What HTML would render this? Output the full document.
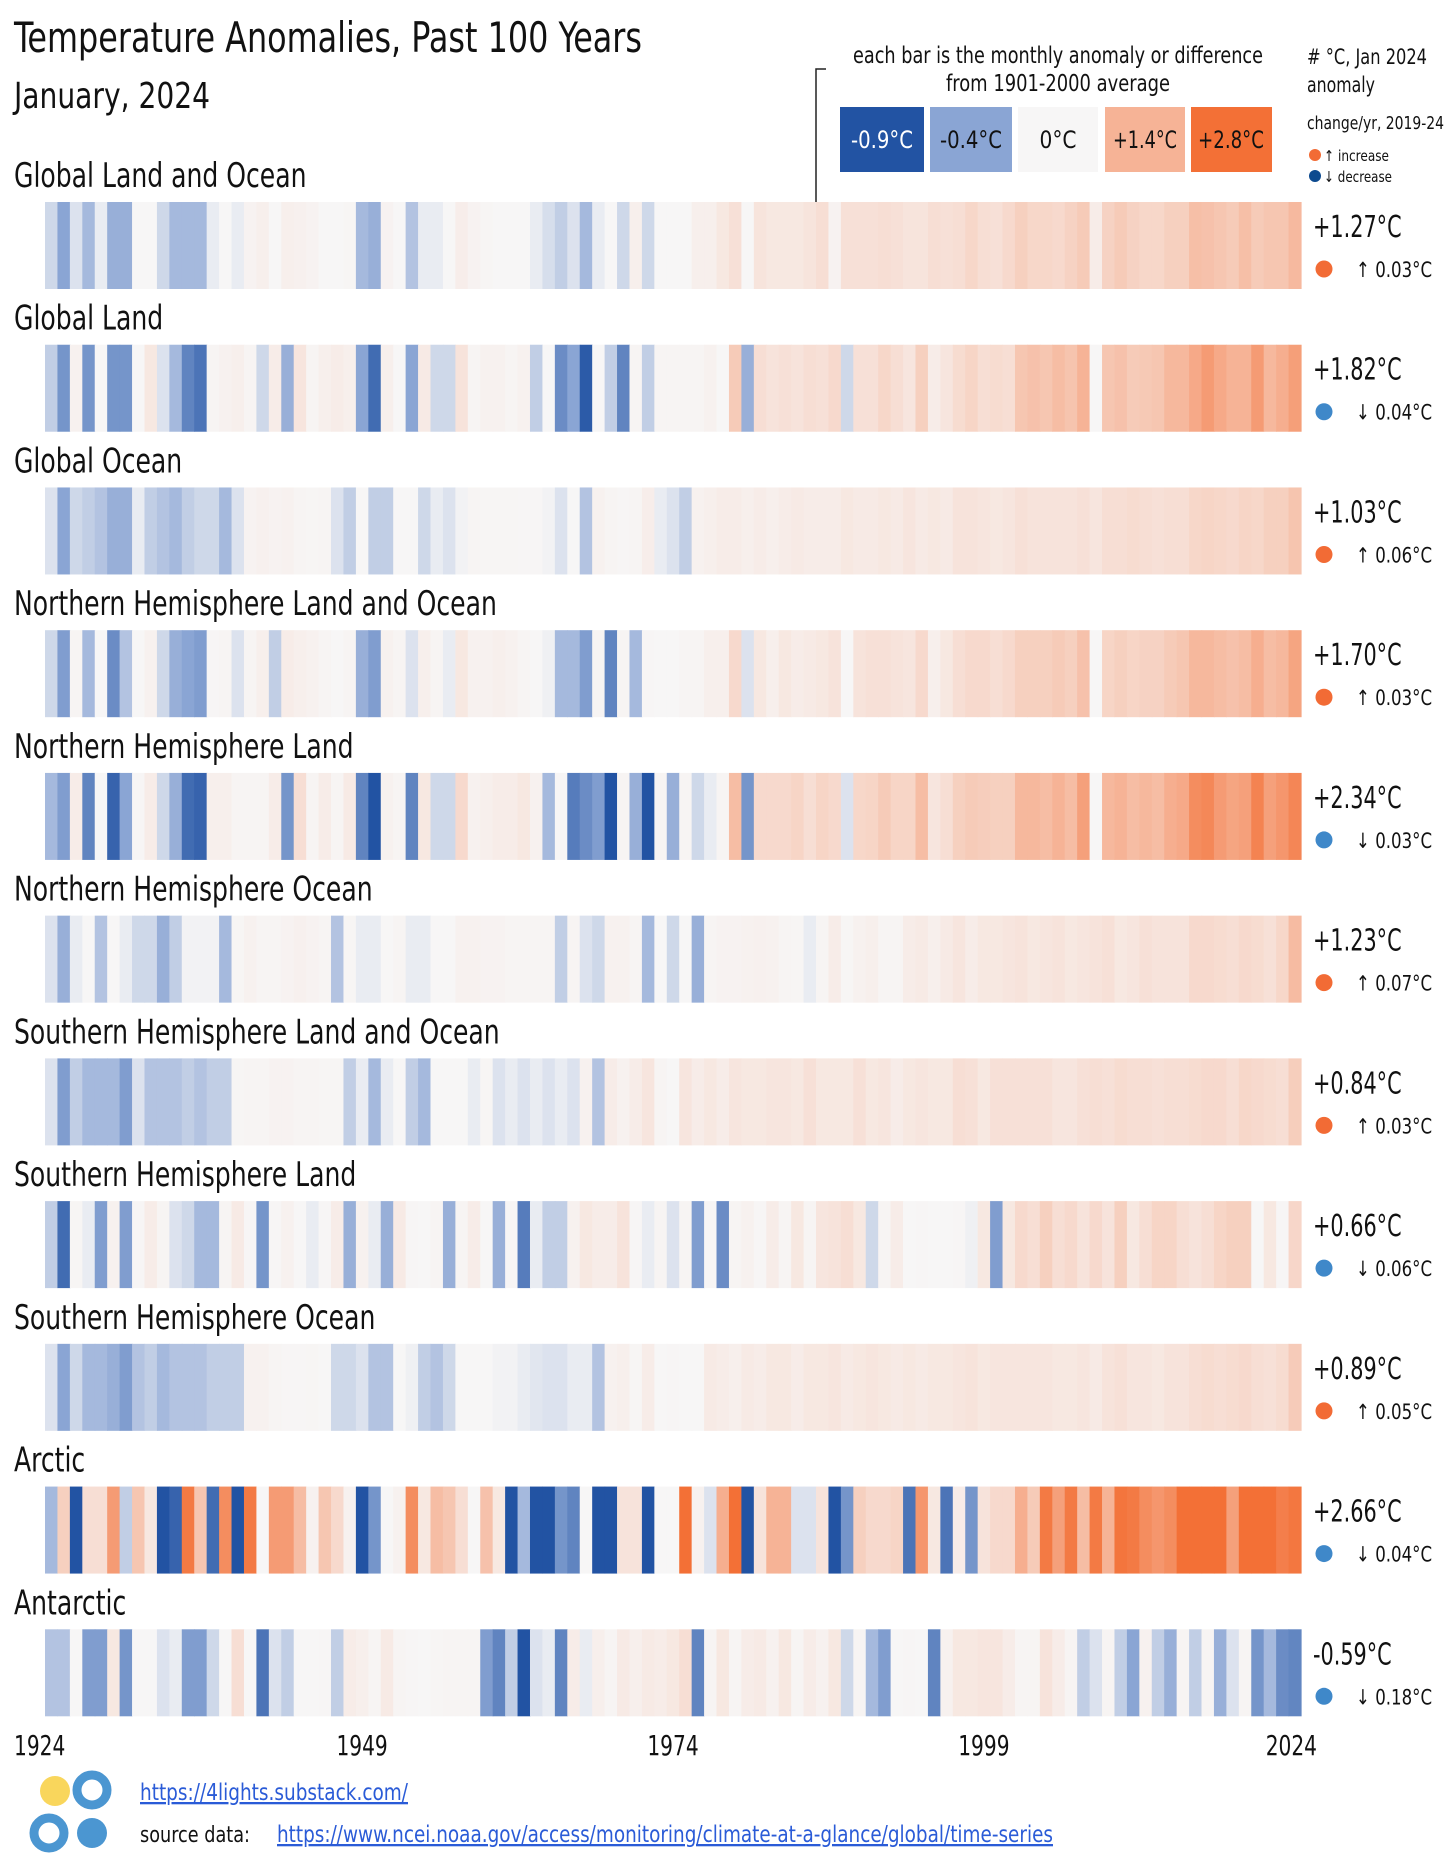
<!DOCTYPE html>
<html><head><meta charset="utf-8">
<style>
html,body{margin:0;padding:0;background:#fff;}
svg{display:block;font-family:"DejaVu Sans Condensed","Liberation Sans Narrow","Liberation Sans",sans-serif;}
</style></head>
<body>
<svg id="chart" width="1456" height="1862" viewBox="0 0 1456 1862" xmlns="http://www.w3.org/2000/svg">
<text x="14" y="52" font-size="42" fill="#111" textLength="628" lengthAdjust="spacingAndGlyphs">Temperature Anomalies, Past 100 Years</text>
<text x="14" y="108" font-size="36" fill="#111" textLength="196" lengthAdjust="spacingAndGlyphs">January, 2024</text>
<g>
<polyline points="826,69 816,69 816,205" fill="none" stroke="#222" stroke-width="1.5"/>
<text x="1058" y="63" font-size="23" text-anchor="middle" fill="#111" textLength="410" lengthAdjust="spacingAndGlyphs">each bar is the monthly anomaly or difference</text>
<text x="1058" y="91" font-size="23" text-anchor="middle" fill="#111" textLength="224" lengthAdjust="spacingAndGlyphs">from 1901-2000 average</text>
<rect x="840" y="107" width="84" height="65" fill="#2253a3"/>
<text x="882" y="148" font-size="24" text-anchor="middle" fill="#fff" textLength="62" lengthAdjust="spacingAndGlyphs">-0.9°C</text>
<rect x="930" y="107" width="82" height="65" fill="#8aa5d4"/>
<text x="971" y="148" font-size="24" text-anchor="middle" fill="#111" textLength="62" lengthAdjust="spacingAndGlyphs">-0.4°C</text>
<rect x="1018" y="107" width="80" height="65" fill="#f7f6f6"/>
<text x="1058" y="148" font-size="24" text-anchor="middle" fill="#111" textLength="37" lengthAdjust="spacingAndGlyphs">0°C</text>
<rect x="1105" y="107" width="80" height="65" fill="#f6b396"/>
<text x="1145" y="148" font-size="24" text-anchor="middle" fill="#111" textLength="64" lengthAdjust="spacingAndGlyphs">+1.4°C</text>
<rect x="1191" y="107" width="81" height="65" fill="#f37036"/>
<text x="1231" y="148" font-size="24" text-anchor="middle" fill="#111" textLength="66" lengthAdjust="spacingAndGlyphs">+2.8°C</text>
</g>
<g>
<text x="1307" y="64" font-size="21" fill="#111" textLength="120" lengthAdjust="spacingAndGlyphs"># °C, Jan 2024</text>
<text x="1307" y="92" font-size="21" fill="#111" textLength="68" lengthAdjust="spacingAndGlyphs">anomaly</text>
<text x="1307" y="129" font-size="18" fill="#111" textLength="137" lengthAdjust="spacingAndGlyphs">change/yr, 2019-24</text>
<circle cx="1315" cy="155" r="6" fill="#f26b35"/>
<text x="1324" y="161" font-size="15" fill="#111" textLength="65" lengthAdjust="spacingAndGlyphs">↑ increase</text>
<circle cx="1315" cy="176" r="6" fill="#0d4a8f"/>
<text x="1324" y="182" font-size="15" fill="#111" textLength="68" lengthAdjust="spacingAndGlyphs">↓ decrease</text>
</g>
<g id="rows"></g>
<g id="xaxis"></g>
<g>
<circle cx="55" cy="1791" r="15" fill="#f9d65c"/>
<circle cx="92" cy="1790" r="15" fill="none" stroke="#4b96d1" stroke-width="9"/>
<circle cx="49" cy="1833" r="15" fill="none" stroke="#4b96d1" stroke-width="9"/>
<circle cx="92" cy="1833" r="15" fill="#4b96d1"/>
<text x="140" y="1800" font-size="23" fill="#2a5bd7" text-decoration="underline" textLength="268" lengthAdjust="spacingAndGlyphs">https://4lights.substack.com/</text>
<text x="140" y="1842" font-size="22" fill="#111" textLength="110" lengthAdjust="spacingAndGlyphs">source data:</text>
<text x="277" y="1842" font-size="23" fill="#2a5bd7" text-decoration="underline" textLength="776" lengthAdjust="spacingAndGlyphs">https://www.ncei.noaa.gov/access/monitoring/climate-at-a-glance/global/time-series</text>
</g>
</svg>
<script>
const regions = ["Global Land and Ocean","Global Land","Global Ocean","Northern Hemisphere Land and Ocean","Northern Hemisphere Land","Northern Hemisphere Ocean","Southern Hemisphere Land and Ocean","Southern Hemisphere Land","Southern Hemisphere Ocean","Arctic","Antarctic"];
const jan2024Labels = ["+1.27°C","+1.82°C","+1.03°C","+1.70°C","+2.34°C","+1.23°C","+0.84°C","+0.66°C","+0.89°C","+2.66°C","-0.59°C"];
const trendValues = [0.03,-0.04,0.06,0.03,-0.03,0.07,0.03,-0.06,0.05,-0.04,-0.18];
const tickYears = [1924,1949,1974,1999,2024];
const startYear = 1924;

const globalLandOcean = [-0.15,-0.4,-0.1,-0.3,-0.05,-0.35,-0.35,0,0,-0.15,-0.3,-0.3,-0.3,-0.05,0,-0.05,0.08,0.15,0,0.15,0.12,0.08,0,0,0.03,-0.3,-0.35,0.08,0,-0.25,-0.05,-0.05,0,0.18,0.08,0.03,0,0,0,-0.05,-0.12,-0.2,-0.1,-0.3,-0.05,0,-0.15,0.15,-0.15,0,0,0,0.15,0.15,0.3,0.45,0,0.38,0.3,0.3,0.3,0.38,0.5,0.08,0.45,0.45,0.45,0.5,0.45,0.38,0.38,0.5,0.45,0.5,0.65,0.5,0.45,0.6,0.8,0.65,0.65,0.6,0.75,0.9,0.2,0.75,0.9,0.75,0.65,0.65,0.8,0.8,1.15,1.1,1.0,0.9,1.15,0.9,1.0,1.0,1.27];
const globalLand = [-0.2,-0.5,0.1,-0.5,0,-0.5,-0.5,0,0.3,-0.1,-0.3,-0.6,-0.7,0.05,0.1,0.15,0.05,-0.15,0.2,-0.35,0.35,0.05,0.15,0.2,0.15,-0.4,-0.75,0.15,0,-0.4,0.25,-0.15,-0.15,0.4,0.05,0.1,0.1,0.05,0.1,-0.2,0,-0.55,-0.4,-0.85,0,-0.2,-0.6,0.05,-0.2,0.05,0.05,0.05,0.05,0.1,0,0.9,-0.35,0.5,0.4,0.45,0.4,0.5,0.45,0.6,-0.15,0.45,0.45,0.65,0.5,0.35,0.8,0.2,0.35,0.55,0.7,0.5,0.55,0.5,1.0,1.1,1.0,1.2,1.05,1.4,0,1.0,1.1,0.9,0.95,1.0,1.3,1.3,1.6,1.9,1.6,1.4,1.4,1.9,1.3,1.5,1.82];
const globalOcean = [-0.1,-0.4,-0.15,-0.2,-0.25,-0.35,-0.35,-0.05,-0.2,-0.25,-0.3,-0.2,-0.15,-0.15,-0.3,-0.1,0.08,0.12,0.08,0.1,0.05,0.03,0.05,-0.1,-0.2,0,-0.2,-0.2,0,0,-0.15,-0.05,-0.1,-0.02,0.05,0.03,0.03,0.03,0.02,0.02,-0.02,-0.1,0,-0.25,0.1,0.05,0.02,0.05,0.18,-0.05,-0.1,-0.2,0.1,0.15,0.2,0.2,0.15,0.2,0.15,0.2,0.25,0.2,0.2,0.2,0.3,0.25,0.25,0.3,0.25,0.35,0.25,0.3,0.25,0.4,0.4,0.35,0.3,0.35,0.45,0.4,0.4,0.4,0.4,0.45,0.35,0.5,0.5,0.55,0.5,0.45,0.5,0.5,0.65,0.7,0.65,0.6,0.7,0.65,0.8,0.8,1.03];
const nhLandOcean = [-0.15,-0.45,0.05,-0.3,0,-0.55,-0.25,0,0.1,-0.15,-0.35,-0.4,-0.45,0.02,0.05,-0.1,0.05,0.15,-0.2,0.2,0.15,0.1,0.05,0,0.05,-0.35,-0.45,0.1,0.05,-0.1,0.15,0.05,-0.05,0.3,0.1,0.1,0.15,0.1,0.05,0,-0.03,-0.3,-0.3,-0.45,0.05,-0.6,0.05,-0.3,0.02,0,0,0.05,0.05,0.15,0.15,0.6,-0.1,0.3,0.15,0.3,0.2,0.25,0.3,0.4,0,0.4,0.45,0.45,0.4,0.35,0.6,0.15,0.3,0.5,0.6,0.6,0.5,0.6,0.8,0.8,0.8,0.9,0.8,1.1,0,0.7,0.8,0.7,0.75,0.75,0.9,1.0,1.3,1.3,1.2,1.1,1.2,1.5,1.2,1.3,1.7];
const nhLand = [-0.3,-0.45,0.2,-0.6,0,-0.8,-0.4,0.02,0.2,-0.15,-0.35,-0.75,-0.8,0.15,0.15,0.05,0.05,0.05,0.2,-0.5,0.5,0.05,0.2,0.05,0.25,-0.6,-0.9,0.1,0.05,-0.6,0.3,-0.15,-0.15,0.6,0.1,0.15,0.2,0.2,0.3,0.1,-0.3,0.02,-0.65,-0.55,-0.45,-0.9,0.05,-0.35,-0.9,0.05,-0.35,0.05,-0.15,-0.05,0.05,1.2,-0.5,0.6,0.6,0.6,0.7,0.5,0.7,0.6,-0.1,0.65,0.7,0.9,0.7,0.7,1.2,0.35,0.5,0.8,0.9,0.85,0.8,0.8,1.3,1.3,1.2,1.4,1.2,1.8,0,1.3,1.4,1.2,1.3,1.2,1.5,1.6,2.2,2.3,1.9,1.7,1.8,2.4,1.8,2.0,2.34];
const nhOcean = [-0.1,-0.35,-0.05,0,-0.25,0,-0.05,-0.15,-0.15,-0.35,-0.2,-0.02,-0.02,-0.02,-0.3,0.03,0.1,0.05,0.05,0.08,0.12,0.08,0.05,-0.25,0.03,-0.05,-0.05,0,0.05,-0.05,-0.05,0,0,0.1,0.1,0.08,0.08,0.05,0.05,0.05,0.05,-0.2,0.05,-0.1,-0.15,0.1,0.1,0.05,-0.3,0,-0.15,0,-0.35,0.05,0.08,0.08,0.1,0.12,0.1,0.05,0.03,-0.05,0.05,0.2,0.03,0.1,0.15,0.05,0.05,0.2,0.25,0.15,0.25,0.35,0.2,0.3,0.3,0.35,0.4,0.3,0.35,0.4,0.3,0.35,0.4,0.45,0.3,0.35,0.45,0.4,0.4,0.4,0.6,0.6,0.55,0.5,0.6,0.55,0.45,0.65,1.23];
const shLandOcean = [-0.1,-0.45,-0.2,-0.3,-0.3,-0.3,-0.45,-0.1,-0.25,-0.25,-0.25,-0.2,-0.25,-0.2,-0.2,0.03,0.05,0.05,0.08,0.08,0.05,0.05,0.03,0.03,-0.2,-0.05,-0.3,-0.05,0,-0.2,-0.3,0,0,0,-0.05,0.03,-0.1,-0.05,-0.1,-0.05,-0.1,-0.05,-0.1,0.1,-0.25,0.2,0.1,0.2,0.35,0.05,0,0.35,0.2,0.3,0.2,0.35,0.3,0.3,0.35,0.35,0.3,0.45,0.3,0.3,0.3,0.45,0.3,0.35,0.2,0.3,0.35,0.3,0.3,0.5,0.45,0.3,0.45,0.45,0.45,0.45,0.45,0.35,0.35,0.45,0.5,0.45,0.55,0.5,0.5,0.45,0.5,0.5,0.55,0.6,0.6,0.5,0.65,0.6,0.55,0.5,0.84];
const shLand = [-0.2,-0.75,0.03,-0.05,-0.45,0.1,-0.45,0.02,0.2,0.05,-0.1,-0.15,-0.3,-0.3,0.05,0.25,0.02,-0.5,0.02,0.1,0,-0.05,0.02,0.2,-0.35,0.1,-0.05,-0.35,0.25,0.02,0,0.05,-0.35,0.05,0.2,0,-0.35,0.02,-0.65,-0.05,-0.2,-0.2,0.1,0.3,0.2,0.2,0.4,0.02,-0.05,0.05,-0.1,0.05,-0.45,0.02,-0.55,0.05,0.1,0.02,0.2,0.05,0.3,0.05,0.35,0.4,0.5,0.3,-0.15,0.05,0.2,0,0.02,0,0,0.02,-0.03,0.3,-0.45,0.3,0.6,0.5,0.8,0.5,0.6,0.4,0.6,0.4,0.8,0.3,0.5,0.7,0.7,0.5,0.4,0.5,0.7,0.8,0.8,0,0.3,0.02,0.66];
const shOcean = [-0.1,-0.4,-0.15,-0.3,-0.3,-0.35,-0.45,-0.25,-0.2,-0.3,-0.25,-0.25,-0.25,-0.2,-0.2,-0.2,0.1,0.1,0.05,0.02,0.02,0.03,0,-0.15,-0.15,-0.1,-0.25,-0.25,0,-0.03,-0.2,-0.25,-0.15,0,0,0,-0.02,-0.02,-0.05,-0.08,-0.1,-0.1,-0.05,-0.05,-0.25,0.1,0.15,0.03,0.2,0,0.02,0,0,0.25,0.2,0.15,0.25,0.2,0.3,0.3,0.2,0.3,0.3,0.35,0.25,0.3,0.35,0.3,0.25,0.3,0.25,0.3,0.3,0.35,0.4,0.3,0.35,0.35,0.35,0.35,0.35,0.3,0.3,0.35,0.25,0.4,0.45,0.35,0.35,0.3,0.4,0.4,0.5,0.55,0.5,0.55,0.6,0.5,0.45,0.55,0.89];
const arctic = [-0.3,0.8,-0.9,0.5,0.5,1.9,-0.2,1.0,0.3,-0.9,-0.8,2.6,1.0,-0.75,2.2,-0.9,2.6,0,1.9,1.9,1.2,0.1,1.0,0.6,0.1,-0.9,-0.5,0,0.1,2.2,0.3,1.2,1.0,0.5,0,1.1,0.3,-0.9,-0.3,-0.9,-0.9,-0.5,-0.6,0,-0.9,-0.9,0.4,0.4,-0.9,0,0,2.8,0.1,-0.1,1.5,2.8,-0.9,0.4,1.4,1.4,-0.1,-0.1,0.4,-0.9,-0.5,0.8,0.6,0.6,0.7,-0.7,2.0,0.3,-0.7,0.2,-0.5,0.4,0.6,0.6,1.5,0.9,2.6,1.8,2.6,1.2,2.6,1.4,2.7,2.6,2.2,2.0,2.2,2.8,2.8,2.8,2.8,1.8,2.8,2.8,2.8,2.5,2.66];
const antarctic = [-0.25,-0.25,0,-0.45,-0.45,0.3,-0.5,0,0,-0.1,-0.05,-0.45,-0.45,-0.15,0,0.5,0,-0.7,-0.1,-0.2,0,0,0.02,-0.2,0.2,0.15,0.05,0.25,0.05,0.02,0,0.03,0.05,0.05,0.05,-0.45,-0.6,-0.2,-0.9,-0.1,-0.05,-0.6,0.2,-0.05,0.15,0.05,0.25,0.15,0.25,0.2,0.3,0.5,-0.6,0.05,0.3,0.05,0.2,0.25,0.1,0.3,0.05,0.2,0.1,0.3,-0.15,0.05,-0.3,-0.45,0,0.02,0,-0.6,0.1,0.3,0.3,0.35,0.35,0.2,0.05,0.05,0.4,0.2,0.05,-0.2,-0.1,0.05,-0.2,-0.4,0.1,-0.2,-0.35,0.05,-0.2,0.05,-0.35,-0.1,0.05,-0.5,-0.3,-0.55,-0.59];
const series = [globalLandOcean,globalLand,globalOcean,nhLandOcean,nhLand,nhOcean,shLandOcean,shLand,shOcean,arctic,antarctic];

const X0 = 45, X1 = 1301, ROW0 = 202, ROWSTEP = 142.73, STRIPH = 87;
const nYears = 101;
const bw = (X1 - X0) / nYears;
function xScale(i){ return X0 + i * bw; }
function yearX(y){ return X0 + (y - startYear + 0.5) * bw; }
function rowY(r){ return ROW0 + r * ROWSTEP; }
const stops = [[-0.9,[34,83,163]],[-0.4,[138,165,212]],[0,[247,246,246]],[1.4,[246,179,150]],[2.8,[243,112,54]]];
function color(v){
  if (v <= stops[0][0]) return 'rgb('+stops[0][1].join(',')+')';
  for (let k=0;k<stops.length-1;k++){
    const a=stops[k], b=stops[k+1];
    if (v <= b[0]){ const t=(v-a[0])/(b[0]-a[0]); return 'rgb('+a[1].map((c,j)=>Math.round(c+(b[1][j]-c)*t)).join(',')+')'; }
  }
  return 'rgb('+stops[stops.length-1][1].join(',')+')';
}
function squeeze(el, f){
  const w = el.getComputedTextLength();
  el.setAttribute('textLength', (w * f).toFixed(1));
  el.setAttribute('lengthAdjust', 'spacingAndGlyphs');
}
const NS = 'http://www.w3.org/2000/svg';
const rowsG = document.getElementById('rows');
series.forEach((vals, r) => {
  const g = document.createElementNS(NS,'g');
  
  
  const y = rowY(r);
  const lab = document.createElementNS(NS,'text');
  lab.setAttribute('x', 14); lab.setAttribute('y', y - 15);
  lab.setAttribute('font-size', 34); lab.setAttribute('fill', '#111');
  lab.textContent = regions[r];
  
  
  g.appendChild(lab);
  vals.slice(0, nYears).forEach((v, i) => {
    const rc = document.createElementNS(NS,'rect');
    rc.setAttribute('x', xScale(i).toFixed(2));
    rc.setAttribute('y', y);
    rc.setAttribute('width', (bw + 0.6).toFixed(2));
    rc.setAttribute('height', STRIPH);
    rc.setAttribute('fill', color(v));
    
    
    g.appendChild(rc);
  });
  const val = document.createElementNS(NS,'text');
  val.setAttribute('x', 1313); val.setAttribute('y', y + 35);
  val.setAttribute('font-size', 30); val.setAttribute('fill', '#111');
  val.textContent = jan2024Labels[r];
  
  
  g.appendChild(val);
  const tv = trendValues[r];
  const dot = document.createElementNS(NS,'circle');
  dot.setAttribute('cx', 1324); dot.setAttribute('cy', y + 67); dot.setAttribute('r', 8.5);
  dot.setAttribute('fill', tv >= 0 ? '#f26b35' : '#3f88c9');
  
  
  g.appendChild(dot);
  const tt = document.createElementNS(NS,'text');
  tt.setAttribute('x', 1356); tt.setAttribute('y', y + 75);
  tt.setAttribute('font-size', 21); tt.setAttribute('fill', '#111');
  tt.textContent = (tv >= 0 ? '↑ ' : '↓ ') + Math.abs(tv).toFixed(2) + '°C';
  
  
  g.appendChild(tt);
  rowsG.appendChild(g);
  squeeze(lab, 0.82);
  squeeze(val, 0.77);
  squeeze(tt, 0.88);
});
const ax = document.getElementById('xaxis');
tickYears.forEach((yr, k) => {
  const t = document.createElementNS(NS,'text');
  let x = yearX(yr), anchor = 'middle';
  if (k === 0) { x = 14; anchor = 'start'; }
  if (k === tickYears.length - 1) { x = 1317; anchor = 'end'; }
  t.setAttribute('x', x); t.setAttribute('y', 1755);
  t.setAttribute('font-size', 28); t.setAttribute('fill', '#111');
  t.setAttribute('text-anchor', anchor);
  t.textContent = yr;
  
  
  ax.appendChild(t);
  squeeze(t, 0.8);
});
</script>
</body></html>
